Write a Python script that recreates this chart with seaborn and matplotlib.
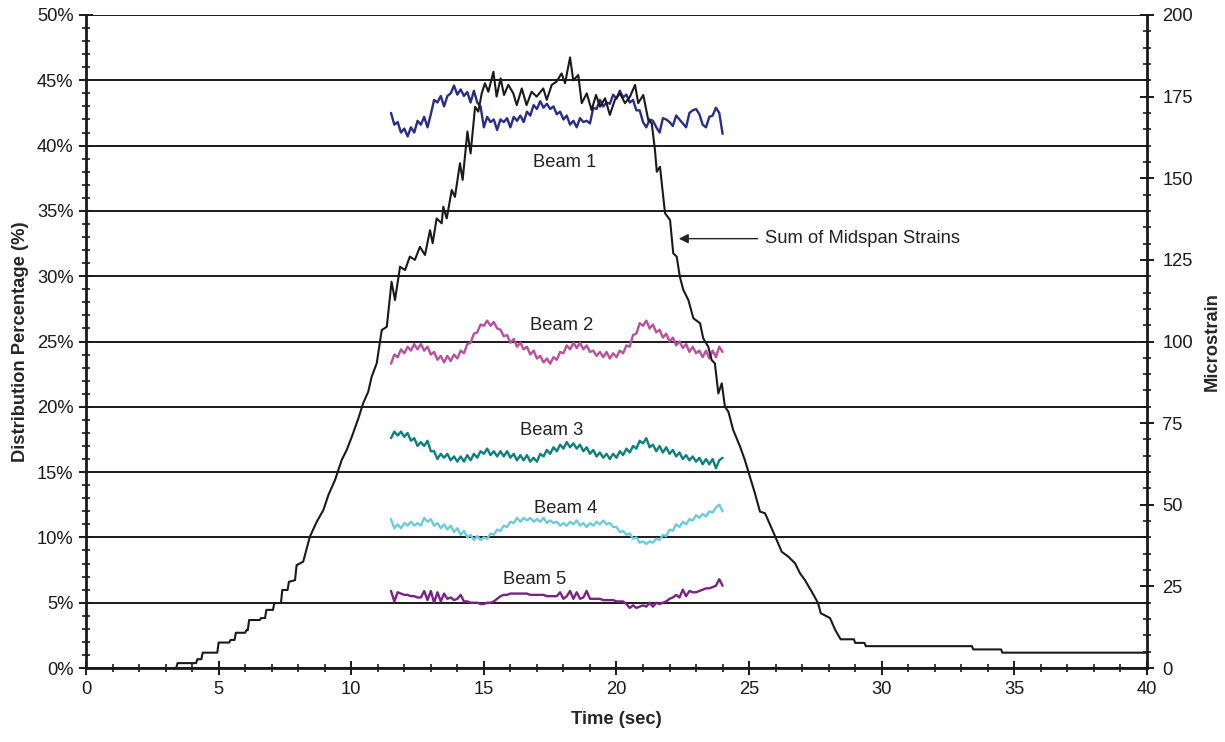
import numpy as np
import pandas as pd
import matplotlib
matplotlib.use("Agg")
import matplotlib.pyplot as plt
from matplotlib.ticker import MultipleLocator, FuncFormatter
import seaborn as sns

# ---------------- data ----------------
beam_start, beam_end = 11.5, 24.0

beam1 = [42.5, 41.6, 41.8, 41.0, 41.3, 40.7, 41.4, 41.0, 41.9, 41.6, 42.2, 41.4, 42.4, 43.5, 43.3, 43.8,
         43.0, 43.8, 44.0, 44.6, 43.9, 44.3, 43.8, 44.1, 43.3, 44.2, 43.3, 43.0, 41.4, 42.2, 41.8, 42.0,
         41.2, 42.0, 41.8, 42.1, 41.4, 42.2, 41.9, 42.3, 41.8, 42.6, 42.3, 43.1, 42.8, 43.4, 42.9, 43.2,
         42.8, 43.0, 42.4, 42.6, 42.0, 42.3, 41.6, 41.9, 41.4, 42.1, 41.8, 41.9, 41.7, 42.9, 42.8, 43.5,
         43.0, 43.3, 43.2, 43.9, 43.6, 44.2, 43.7, 43.9, 43.3, 43.5, 42.7, 42.7, 41.8, 41.4, 42.0, 41.9,
         41.4, 41.0, 42.1, 42.0, 41.8, 41.5, 42.3, 42.0, 41.7, 41.4, 42.5, 42.7, 42.8, 42.4, 41.6, 41.4,
         42.2, 42.3, 42.9, 42.5, 40.9]

beam2 = [23.3, 24.0, 23.8, 24.4, 24.1, 24.6, 24.3, 24.8, 24.4, 24.8, 24.3, 24.6, 24.0, 24.2, 23.6, 23.9,
         23.4, 23.9, 23.5, 24.0, 23.7, 24.3, 24.1, 24.8, 24.9, 25.6, 25.7, 26.3, 26.2, 26.6, 26.2, 26.5,
         26.0, 25.9, 25.4, 25.5, 24.9, 25.2, 24.6, 24.9, 24.4, 24.6, 24.0, 24.3, 23.7, 23.9, 23.4, 23.7,
         23.3, 23.8, 23.6, 24.2, 24.1, 24.7, 24.4, 24.9, 24.5, 24.9, 24.4, 24.7, 24.2, 24.3, 23.9, 24.2,
         23.8, 24.2, 23.7, 24.1, 23.8, 24.3, 24.1, 24.7, 24.6, 25.5, 25.6, 26.4, 26.2, 26.6, 26.0, 26.3,
         25.7, 25.9, 25.3, 25.6, 25.0, 25.3, 24.7, 25.0, 24.5, 24.8, 24.2, 24.6, 24.1, 24.3, 23.8, 24.3,
         23.7, 24.3, 23.8, 24.6, 24.2]

beam3 = [17.6, 18.1, 17.8, 18.1, 17.7, 18.0, 17.4, 17.6, 17.0, 17.3, 17.0, 17.4, 16.6, 16.6, 16.0, 16.4,
         16.1, 16.4, 15.9, 16.2, 15.8, 16.2, 15.8, 16.3, 15.9, 16.4, 16.1, 16.6, 16.4, 16.8, 16.3, 16.6,
         16.2, 16.6, 16.2, 16.6, 16.1, 16.4, 15.9, 16.3, 15.9, 16.3, 15.8, 16.1, 15.8, 16.4, 16.2, 16.7,
         16.4, 16.9, 16.6, 17.1, 16.8, 17.3, 16.9, 17.2, 16.8, 17.1, 16.6, 16.9, 16.4, 16.7, 16.2, 16.5,
         16.1, 16.4, 16.0, 16.4, 16.1, 16.6, 16.3, 16.8, 16.5, 17.0, 16.8, 17.4, 17.2, 17.6, 16.9, 17.1,
         16.6, 17.0, 16.5, 16.9, 16.4, 16.7, 16.2, 16.5, 16.0, 16.3, 15.9, 16.2, 15.8, 16.1, 15.6, 16.0,
         15.6, 16.0, 15.3, 15.9, 16.1]

beam4 = [11.4, 10.7, 11.0, 10.7, 11.1, 10.9, 11.2, 10.9, 11.1, 10.9, 11.5, 11.2, 11.4, 10.9, 11.1, 10.7,
         11.0, 10.6, 10.9, 10.4, 10.7, 10.2, 10.5, 10.0, 10.2, 9.8, 10.1, 9.8, 10.0, 9.9, 10.3, 10.2,
         10.6, 10.5, 10.9, 10.8, 11.2, 11.1, 11.5, 11.2, 11.5, 11.3, 11.5, 11.2, 11.4, 11.2, 11.5, 11.1,
         11.3, 11.1, 11.2, 10.9, 11.1, 10.9, 11.2, 11.0, 11.3, 10.9, 11.1, 10.8, 11.1, 10.9, 11.2, 11.0,
         11.3, 11.0, 11.1, 10.8, 10.8, 10.4, 10.5, 10.2, 10.3, 9.9, 10.0, 9.6, 9.7, 9.5, 9.7, 9.6,
         9.9, 9.8, 10.2, 10.1, 10.6, 10.5, 11.0, 10.8, 11.2, 11.0, 11.4, 11.3, 11.7, 11.5, 11.8, 11.6,
         12.0, 11.9, 12.3, 12.5, 12.0]

beam5 = [5.9, 5.1, 5.8, 5.7, 5.6, 5.6, 5.5, 5.5, 5.4, 5.4, 5.9, 5.2, 5.9, 5.0, 5.8, 5.1,
         5.7, 5.3, 5.4, 5.2, 5.3, 5.6, 5.1, 5.1, 5.0, 5.0, 5.0, 4.9, 4.9, 5.0, 5.0, 5.1,
         5.3, 5.5, 5.6, 5.6, 5.7, 5.7, 5.7, 5.7, 5.7, 5.7, 5.6, 5.6, 5.6, 5.6, 5.6, 5.5,
         5.5, 5.5, 5.5, 5.8, 5.3, 5.5, 5.9, 5.3, 5.8, 5.3, 5.4, 5.9, 5.3, 5.3, 5.3, 5.3,
         5.2, 5.2, 5.2, 5.2, 5.1, 5.1, 5.1, 4.9, 4.6, 4.8, 4.6, 4.7, 4.8, 4.7, 5.0, 4.7,
         5.0, 4.9, 5.0, 5.1, 5.3, 5.4, 5.6, 5.4, 6.0, 5.5, 5.9, 5.8, 5.8, 5.9, 6.0, 6.1,
         6.1, 6.2, 6.3, 6.8, 6.3]

sum_time = [0, 3.4, 3.45, 4.15, 4.2, 4.35, 4.4, 4.95, 5.0, 5.4, 5.45, 5.6, 5.65, 6.0, 6.05, 6.1,
            6.15, 6.55, 6.6, 6.75, 6.8, 7.05, 7.1, 7.35, 7.4, 7.6, 7.65, 7.88, 7.94, 8.19, 8.44, 8.7,
            8.95, 9.14, 9.39, 9.64, 9.83, 10.02, 10.27, 10.45, 10.64, 10.77, 10.96, 11.15, 11.34, 11.52,
            11.65, 11.84, 12.03, 12.21, 12.4, 12.59, 12.78, 12.97, 13.07, 13.22, 13.41, 13.47, 13.6,
            13.79, 13.91, 14.1, 14.2, 14.38, 14.5, 14.67, 14.79, 14.92, 15.04, 15.17, 15.36, 15.48,
            15.63, 15.76, 15.92, 16.11, 16.24, 16.43, 16.61, 16.8, 16.99, 17.24, 17.37, 17.56, 17.74,
            17.93, 18.06, 18.25, 18.37, 18.56, 18.69, 18.88, 19.06, 19.23, 19.38, 19.57, 19.75, 19.94,
            20.13, 20.32, 20.51, 20.7, 20.82, 21.01, 21.2, 21.33, 21.45, 21.52, 21.64, 21.83, 22.02,
            22.14, 22.27, 22.39, 22.52, 22.71, 22.9, 23.15, 23.27, 23.46, 23.59, 23.71, 23.84, 23.97,
            24.09, 24.22, 24.4, 24.66, 24.84, 25.03, 25.22, 25.41, 25.6, 25.85, 26.04, 26.23, 26.48,
            26.73, 26.92, 27.1, 27.36, 27.6, 27.7, 28.05, 28.25, 28.45, 28.95, 29.0, 29.35, 29.4,
            33.4, 33.45, 34.5, 34.55, 40.0]
sum_strain = [0, 0, 1.5, 1.5, 2.7, 2.7, 4.7, 4.7, 7.8, 7.8, 8.6, 8.6, 10.8, 10.8, 11.6, 11.6,
              14.7, 14.7, 15.3, 15.3, 17.8, 17.8, 19.9, 19.9, 23.9, 23.9, 26.4, 26.9, 31.5, 32.6, 40.2, 44.8,
              48.4, 53.0, 57.6, 63.7, 66.8, 70.8, 76.5, 81.1, 84.6, 89.2, 93.3, 103.5, 104.5, 118.3,
              112.7, 122.9, 121.9, 126.0, 125.0, 129.0, 126.5, 134.1, 130.1, 137.7, 136.2, 141.3, 137.7,
              146.4, 144.3, 154.6, 149.5, 164.3, 157.6, 171.9, 170.4, 176.0, 179.1, 176.5, 182.6, 175.0,
              180.6, 175.5, 178.6, 176.0, 172.4, 177.5, 172.4, 176.5, 175.0, 177.5, 174.0, 178.6, 179.6,
              182.1, 179.1, 187.0, 180.0, 181.6, 173.0, 176.0, 170.9, 175.5, 171.9, 174.5, 169.4, 174.0,
              176.0, 173.0, 175.0, 178.6, 173.0, 175.5, 167.8, 166.8, 158.7, 152.0, 153.5, 139.3, 137.2,
              127.0, 126.0, 119.8, 115.8, 112.7, 107.1, 105.6, 101.0, 98.4, 94.3, 93.3, 84.1, 87.2,
              80.0, 78.5, 72.9, 67.8, 63.7, 58.6, 53.5, 47.9, 47.4, 42.8, 39.2, 35.6, 34.1,
              32.1, 29.0, 27.0, 23.4, 19.9, 16.8, 15.3, 11.6, 8.8, 8.8, 7.7, 7.7, 6.7,
              6.7, 5.7, 5.7, 4.7, 4.7]

beam_names = ["Beam 1", "Beam 2", "Beam 3", "Beam 4", "Beam 5"]
beam_colors = ["#2a2d84", "#b9509e", "#0f7f7c", "#6ccadb", "#7a2382"]
label_pos = [(18.05, 38.7), (17.95, 26.2), (17.55, 18.2), (18.1, 12.2), (16.9, 6.8)]

# ---------------- plot ----------------
sns.set_style("white")
plt.rcParams["font.family"] = ["Liberation Sans", "DejaVu Sans"]
FS = 13.2

fig = plt.figure(figsize=(12.25, 7.42), dpi=100)
ax = fig.add_axes([0.0702, 0.0997, 0.8661, 0.8801])

frames = []
for name, vals in zip(beam_names, [beam1, beam2, beam3, beam4, beam5]):
    t = np.linspace(beam_start, beam_end, len(vals))
    frames.append(pd.DataFrame({"time": t, "pct": vals, "beam": name}))
beams = pd.concat(frames, ignore_index=True)

sns.lineplot(data=beams, x="time", y="pct", hue="beam", palette=beam_colors,
             estimator=None, sort=False, linewidth=1.7, legend=False, ax=ax, zorder=3)

ax.set_xlim(0, 40)
ax.set_ylim(0, 50)
ax.xaxis.set_major_locator(MultipleLocator(5))
ax.xaxis.set_minor_locator(MultipleLocator(1))
ax.yaxis.set_major_locator(MultipleLocator(5))
ax.yaxis.set_minor_locator(MultipleLocator(1))
ax.yaxis.set_major_formatter(FuncFormatter(lambda v, p: f"{v:.0f}%"))
ax.yaxis.grid(True, color="#1a1a1a", linewidth=1.4)
ax.xaxis.grid(False)
ax.set_axisbelow(True)
ax.tick_params(axis="both", which="major", direction="inout", length=10, width=1.4,
               labelsize=FS, color="#1a1a1a", labelcolor="#1a1a1a", pad=4)
ax.tick_params(axis="both", which="minor", direction="inout", length=6, width=1.2, color="#1a1a1a")
ax.tick_params(axis="y", which="both", left=True)
ax.tick_params(axis="x", which="both", bottom=True)
for s in ["left", "bottom"]:
    ax.spines[s].set_color("#1a1a1a")
    ax.spines[s].set_linewidth(2.0)
ax.spines["top"].set_visible(False)
ax.spines["right"].set_visible(False)
ax.set_xlabel("Time (sec)", fontsize=FS, fontweight="bold", labelpad=10)
ax.set_ylabel("Distribution Percentage (%)", fontsize=FS, fontweight="bold", labelpad=6)

for name, (tx, ty) in zip(beam_names, label_pos):
    ax.text(tx, ty, name, ha="center", va="center", fontsize=FS, color="#222222", zorder=5)

ax2 = ax.twinx()
sum_df = pd.DataFrame({"time": sum_time, "strain": sum_strain})
sns.lineplot(data=sum_df, x="time", y="strain", color="#1a1a1a", linewidth=1.5,
             estimator=None, sort=False, ax=ax2)
ax2.set_ylim(0, 200)
ax2.yaxis.set_major_locator(MultipleLocator(25))
ax2.yaxis.set_minor_locator(MultipleLocator(5))
ax2.tick_params(axis="y", which="major", direction="inout", length=10, width=1.4,
                labelsize=FS, color="#1a1a1a", labelcolor="#1a1a1a", right=True, pad=6)
ax2.tick_params(axis="y", which="minor", direction="inout", length=6, width=1.2,
                color="#1a1a1a", right=True)
ax2.spines["right"].set_color("#1a1a1a")
ax2.spines["right"].set_linewidth(2.0)
for s in ["top", "left", "bottom"]:
    ax2.spines[s].set_visible(False)
ax2.set_ylabel("Microstrain", fontsize=FS, fontweight="bold", labelpad=8)
ax2.grid(False)

ax2.annotate("Sum of Midspan Strains", xy=(22.35, 131.5), xytext=(25.6, 131.5),
             fontsize=FS, color="#222222", ha="left", va="center",
             arrowprops=dict(arrowstyle="-|>", color="#222222", lw=1.0,
                             shrinkA=3, shrinkB=0, mutation_scale=14))

fig.savefig("out.png", dpi=100)
